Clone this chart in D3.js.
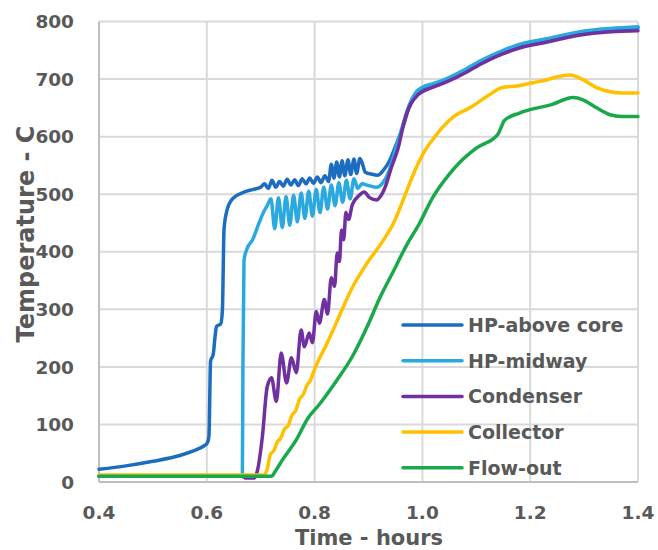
<!DOCTYPE html>
<style>
body { margin: 0; background: #fff; }
text { font-family: "DejaVu Sans", sans-serif; font-weight: bold; fill: #595959; }
</style>
<svg width="658" height="550"></svg>
<script src="https://d3js.org/d3.v7.min.js"></script>
<script>

// time (hours), temperature (C)
var hpAboveCore = [
  [0.40,22],[0.45,28],[0.50,36],[0.55,46],[0.575,54],[0.585,58],[0.595,63],[0.601,68],[0.604,80],
  [0.607,210],[0.612,222],[0.615,250],[0.618,270],[0.626,275],[0.629,300],[0.632,440],[0.638,474],
  [0.646,490],[0.656,498],[0.670,504],[0.685,508],[0.700,512],
  [0.707,518],[0.714,510],[0.721,524],[0.728,512],[0.735,522],[0.742,514],[0.749,526],[0.756,516],
  [0.763,525],[0.770,515],[0.777,527],[0.784,518],[0.791,528],[0.798,519],[0.805,530],[0.812,520],
  [0.819,532],[0.826,522],[0.831,552],[0.836,528],[0.841,556],[0.846,530],[0.851,558],[0.856,532],
  [0.862,560],[0.867,534],[0.873,561],[0.878,536],[0.884,562],[0.889,552],[0.894,538],[0.905,535],
  [0.917,533],[0.928,542],[0.940,560],[0.952,588],[0.963,614],[0.975,650],[0.988,674],[1.000,684],
  [1.020,690],[1.045,699],[1.080,715],[1.106,729],[1.150,748],[1.180,758],[1.230,768],[1.290,780],
  [1.350,786],[1.400,789]
];

var hpMidway = [
  [0.40,11],[0.50,11],[0.60,11],[0.666,11],[0.667,200],[0.669,385],[0.675,406],[0.685,421],
  [0.697,450],[0.705,468],[0.712,480],
  [0.719,492],[0.726,440],[0.733,494],[0.740,442],[0.747,496],[0.754,446],[0.761,498],[0.768,452],
  [0.775,502],[0.782,458],[0.789,505],[0.796,462],[0.803,508],[0.810,468],[0.817,512],[0.824,474],
  [0.831,516],[0.838,480],[0.845,520],[0.852,486],[0.859,524],[0.866,492],[0.873,527],[0.880,510],
  [0.888,518],[0.900,515],[0.915,512],[0.925,518],[0.938,540],[0.950,578],[0.963,618],[0.975,654],
  [0.988,677],[1.000,686],[1.020,692],[1.045,701],[1.080,717],[1.106,731],[1.150,750],[1.180,760],
  [1.230,770],[1.290,782],[1.350,788],[1.400,791]
];

var condenser = [
  [0.40,10],[0.60,10],[0.665,10],[0.672,7],[0.688,7],[0.694,20],[0.703,78],[0.712,165],
  [0.720,181],[0.729,140],[0.738,224],[0.748,172],[0.757,216],[0.766,190],[0.775,264],[0.781,235],
  [0.790,259],[0.796,242],[0.803,296],[0.809,276],[0.818,317],[0.824,292],[0.831,355],[0.837,340],
  [0.842,398],[0.846,383],[0.850,438],[0.854,421],[0.858,468],[0.863,456],[0.870,482],[0.883,498],
  [0.892,504],[0.902,494],[0.915,490],[0.922,496],[0.932,515],[0.942,545],[0.955,580],[0.966,625],
  [0.978,656],[0.990,671],[1.000,678],[1.020,686],[1.045,695],[1.080,711],[1.106,725],[1.150,744],
  [1.180,754],[1.230,764],[1.290,776],[1.350,782],[1.400,784]
];

var collector = [
  [0.40,12],[0.60,12],[0.705,12],[0.712,22],[0.718,48],[0.724,54],[0.731,70],[0.737,76],
  [0.744,92],[0.751,98],[0.758,116],[0.765,124],[0.772,144],[0.779,152],[0.786,168],[0.793,178],
  [0.800,196],[0.809,215],[0.820,235],[0.830,255],[0.840,276],[0.855,308],[0.870,338],[0.885,362],
  [0.900,384],[0.915,403],[0.933,428],[0.945,447],[0.955,468],[0.965,492],[0.976,518],[0.988,545],
  [1.000,568],[1.020,596],[1.038,617],[1.060,636],[1.088,650],[1.120,670],[1.147,685],[1.175,688],
  [1.218,696],[1.274,707],[1.298,699],[1.323,685],[1.348,678],[1.370,676],[1.400,676]
];

var flowOut = [
  [0.40,10],[0.60,10],[0.720,10],[0.728,20],[0.740,38],[0.766,73],[0.787,110],[0.809,135],
  [0.840,175],[0.870,218],[0.900,275],[0.920,318],[0.945,364],[0.971,412],[0.995,450],[1.019,494],
  [1.050,535],[1.070,556],[1.100,580],[1.140,604],[1.146,616],[1.152,628],[1.180,641],[1.241,656],
  [1.279,668],[1.298,664],[1.323,650],[1.348,638],[1.370,635],[1.400,635]
];

var seriesNames = ["HP-above core", "HP-midway", "Condenser", "Collector", "Flow-out"];
var seriesData = [hpAboveCore, hpMidway, condenser, collector, flowOut];
var colors = ["#1c6dbf", "#2aa8e0", "#7030a0", "#ffc000", "#19a84a"];

var xTicks = [0.4, 0.6, 0.8, 1.0, 1.2, 1.4];
var yTicks = [0, 100, 200, 300, 400, 500, 600, 700, 800];

var svg = d3.select("svg"),
    plot = {left: 99, right: 638, top: 21.5, bottom: 482};

var x = d3.scaleLinear().domain([0.4, 1.4]).range([plot.left, plot.right]);
var y = d3.scaleLinear().domain([0, 800]).range([plot.bottom, plot.top]);

// grid
svg.append("g")
  .selectAll("line")
  .data(yTicks.slice(1))
  .enter().append("line")
    .attr("x1", plot.left).attr("x2", plot.right)
    .attr("y1", function(d) { return y(d); })
    .attr("y2", function(d) { return y(d); })
    .attr("stroke", "#d9d9d9")
    .attr("stroke-width", 2);

svg.append("g")
  .selectAll("line")
  .data(xTicks.slice(1))
  .enter().append("line")
    .attr("y1", plot.top).attr("y2", plot.bottom)
    .attr("x1", function(d) { return x(d); })
    .attr("x2", function(d) { return x(d); })
    .attr("stroke", "#d9d9d9")
    .attr("stroke-width", 2);

// axis lines
svg.append("line")
    .attr("x1", plot.left).attr("x2", plot.left).attr("y1", plot.top).attr("y2", plot.bottom)
    .attr("stroke", "#bfbfbf").attr("stroke-width", 2);
svg.append("line")
    .attr("x1", plot.left).attr("x2", plot.right).attr("y1", plot.bottom).attr("y2", plot.bottom)
    .attr("stroke", "#bfbfbf").attr("stroke-width", 2);

// tick labels
svg.append("g")
  .selectAll("text")
  .data(yTicks)
  .enter().append("text")
    .attr("x", 74)
    .attr("y", function(d) { return y(d); })
    .attr("dy", "0.36em")
    .attr("text-anchor", "end")
    .attr("font-size", 18.5)
    .text(function(d) { return d; });

svg.append("g")
  .selectAll("text")
  .data(xTicks)
  .enter().append("text")
    .attr("x", function(d) { return x(d); })
    .attr("y", 519)
    .attr("text-anchor", "middle")
    .attr("font-size", 18.5)
    .text(function(d) { return d.toFixed(1); });

// axis titles
svg.append("text")
    .attr("x", 369)
    .attr("y", 545)
    .attr("text-anchor", "middle")
    .attr("font-size", 21)
    .text("Time - hours");

svg.append("text")
    .attr("transform", "translate(34,234) rotate(-90)")
    .attr("text-anchor", "middle")
    .attr("font-size", 24)
    .text("Temperature - C");

// lines
var line = d3.line()
    .curve(d3.curveMonotoneX)
    .x(function(d) { return x(d[0]); })
    .y(function(d) { return y(d[1]); });

svg.append("g")
  .selectAll("path")
  .data(seriesData)
  .enter().append("path")
    .attr("d", line)
    .attr("fill", "none")
    .attr("stroke", function(d, i) { return colors[i]; })
    .attr("stroke-width", 3.5)
    .attr("stroke-linejoin", "round")
    .attr("stroke-linecap", "round");

// legend
var legend = svg.append("g")
  .selectAll("g")
  .data(seriesNames)
  .enter().append("g")
    .attr("transform", function(d, i) { return "translate(403," + (325 + i * 35.7) + ")"; });

legend.append("line")
    .attr("x1", 0).attr("x2", 59)
    .attr("stroke", function(d, i) { return colors[i]; })
    .attr("stroke-width", 3.5)
    .attr("stroke-linecap", "round");

legend.append("text")
    .attr("x", 65)
    .attr("dy", "0.36em")
    .attr("font-size", 19)
    .text(function(d) { return d; });

</script>
